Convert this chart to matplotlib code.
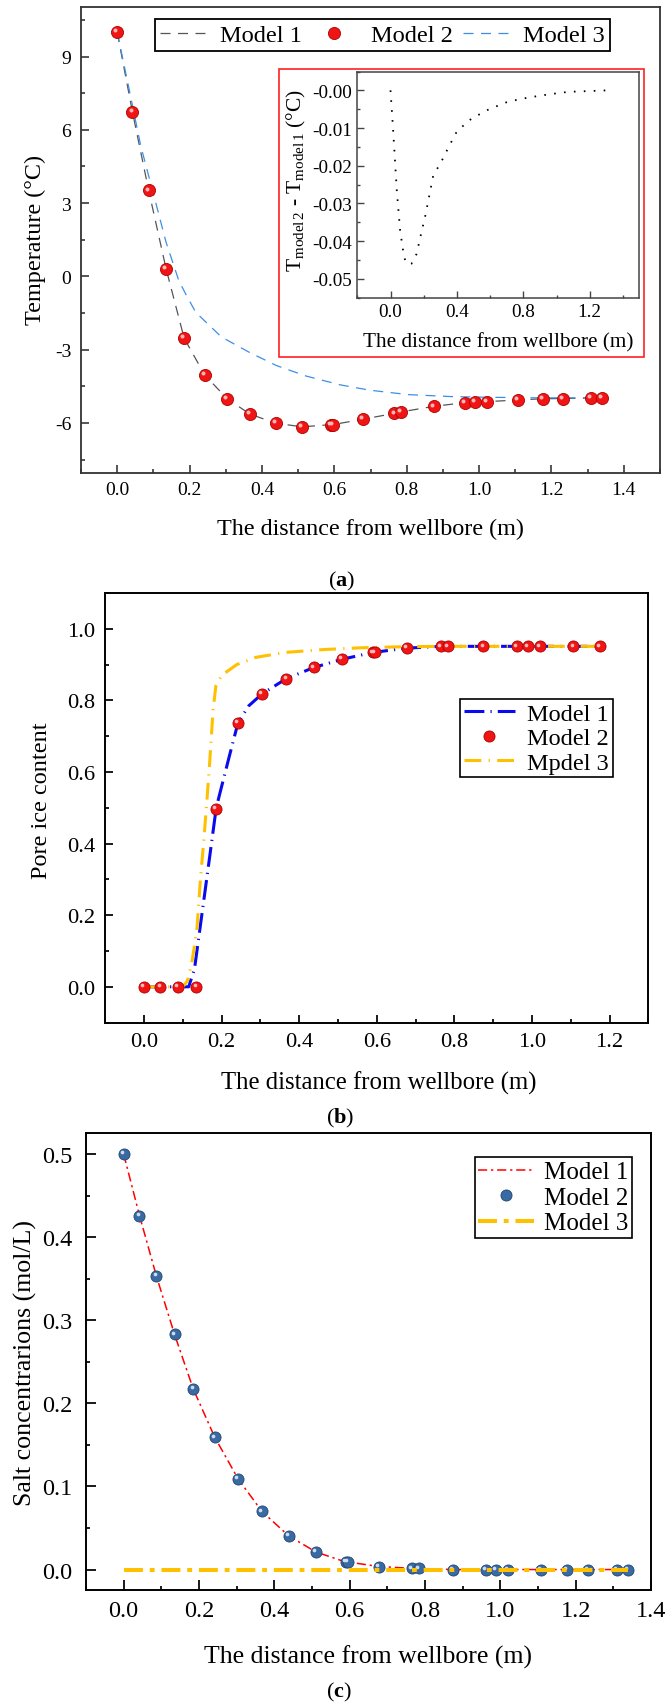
import matplotlib
matplotlib.use('Agg')
import matplotlib.pyplot as plt
from matplotlib.patches import Rectangle
from matplotlib.ticker import MultipleLocator, FormatStrFormatter
from matplotlib.transforms import offset_copy

plt.rcParams['font.family'] = ['Liberation Serif', 'DejaVu Serif']
plt.rcParams['mathtext.fontset'] = 'custom'
plt.rcParams['mathtext.rm'] = 'Liberation Serif'
plt.rcParams['mathtext.it'] = 'Liberation Serif:italic'
plt.rcParams['mathtext.bf'] = 'Liberation Serif:bold'
plt.rcParams['axes.unicode_minus'] = False

# ---------------- data ----------------
# shared sample positions of Model 2 (m)
x_pts = [0.000, 0.042, 0.087, 0.135, 0.185, 0.242, 0.304, 0.367, 0.438, 0.511,
         0.590, 0.596, 0.678, 0.766, 0.784, 0.875, 0.961, 0.989, 1.021, 1.107,
         1.176, 1.232, 1.309, 1.339]

# (a) temperature
temp_m1 = [10.0, 6.75, 3.52, 0.32, -2.53, -4.04, -5.01, -5.64, -6.01, -6.16,
           -6.07, -6.07, -5.85, -5.61, -5.55, -5.32, -5.17, -5.14, -5.13, -5.06,
           -5.01, -5.00, -4.98, -4.98]
temp_m2 = [10.0, 6.75, 3.52, 0.32, -2.53, -4.04, -5.01, -5.64, -6.01, -6.16,
           -6.07, -6.07, -5.85, -5.61, -5.55, -5.32, -5.17, -5.14, -5.13, -5.06,
           -5.01, -5.00, -4.98, -4.98]
x_t3 = [0.0, 0.029, 0.065, 0.106, 0.135, 0.17, 0.19, 0.217, 0.288, 0.364, 0.44,
        0.522, 0.616, 0.698, 0.804, 0.921, 1.027, 1.15, 1.339]
temp_m3 = [10.0, 7.95, 5.35, 3.05, 1.40, -0.16, -0.74, -1.47, -2.48, -3.10, -3.65,
           -4.08, -4.44, -4.66, -4.84, -4.92, -4.95, -4.97, -4.98]

# (a) inset: T_model2 - T_model1
x_diff = [0.0, 0.016, 0.038, 0.058, 0.076, 0.088, 0.11, 0.126, 0.157, 0.183, 0.211,
          0.257, 0.317, 0.347, 0.401, 0.488, 0.594, 0.708, 0.831, 0.949, 1.07, 1.31]
t_diff = [0.0, -0.0106, -0.0266, -0.0372, -0.0425, -0.0451, -0.0462, -0.046, -0.0434,
          -0.0383, -0.033, -0.0227, -0.018, -0.0153, -0.0108, -0.0075, -0.005, -0.003,
          -0.0019, -0.0011, -0.0004, 0.0]

# (b) pore ice content
x_ice1 = [0.0, 0.042, 0.087, 0.115, 0.13, 0.15, 0.165, 0.186, 0.2, 0.22, 0.242, 0.27,
          0.304, 0.367, 0.438, 0.511, 0.590, 0.678, 0.766, 0.875, 0.961, 1.021, 1.107, 1.176]
ice_m1 = [0.0, 0.0, 0.0, 0.0, 0.05, 0.21, 0.33, 0.50, 0.56, 0.645, 0.737, 0.785,
          0.818, 0.861, 0.892, 0.915, 0.934, 0.946, 0.951, 0.951, 0.951, 0.951, 0.951, 0.951]
x_ice2 = x_pts[:21]
ice_m2 = [0.0, 0.0, 0.0, 0.0, 0.497, 0.737, 0.818, 0.861, 0.892, 0.915, 0.934, 0.934,
          0.946, 0.951, 0.951, 0.951, 0.951, 0.951, 0.951, 0.951, 0.951]
x_ice3 = [0.0, 0.042, 0.087, 0.10, 0.112, 0.123, 0.136, 0.145, 0.153, 0.161, 0.169,
          0.178, 0.185, 0.20, 0.239, 0.287, 0.364, 0.462, 0.56, 0.67, 0.78, 0.9, 1.0,
          1.1, 1.176]
ice_m3 = [0.0, 0.0, 0.0, 0.0, 0.017, 0.067, 0.157, 0.297, 0.397, 0.506, 0.625, 0.775,
          0.84, 0.87, 0.90, 0.92, 0.934, 0.942, 0.947, 0.95, 0.951, 0.951, 0.951, 0.951, 0.951]

# (c) salt concentration
salt_m1 = [0.5, 0.426, 0.353, 0.283, 0.217, 0.159, 0.109, 0.070, 0.0405, 0.021, 0.009,
           0.009, 0.0036, 0.0014, 0.0013, 0.0, 0.0, 0.0, 0.0, 0.0, 0.0, 0.0, 0.0, 0.0]
salt_m2 = [0.5, 0.426, 0.353, 0.283, 0.217, 0.159, 0.109, 0.070, 0.0405, 0.021, 0.009,
           0.009, 0.0036, 0.0014, 0.0013, 0.0, 0.0, 0.0, 0.0, 0.0, 0.0, 0.0, 0.0, 0.0]
x_salt3 = [0.0, 1.339]
salt_m3 = [0.0, 0.0]

labels_a = ['Model 1', 'Model 2', 'Model 3']
labels_b = ['Model 1', 'Model 2', 'Mpdel 3']
labels_c = ['Model 1', 'Model 2', 'Model 3']
xlabel = 'The distance from wellbore (m)'

# ---------------- figure ----------------
W, H = 667, 1706
fig = plt.figure(figsize=(W / 100, H / 100), dpi=100)


def px_axes(l, t, r, b, z=0):
    ax = fig.add_axes([l / W, 1 - b / H, (r - l) / W, (b - t) / H])
    ax.set_zorder(z)
    return ax


def style(ax, fs, spine_c='black', lw=1.4, maj=6, mnr=3, pad=6):
    for s in ax.spines.values():
        s.set_linewidth(lw)
        s.set_color(spine_c)
    ax.tick_params(which='both', direction='in', top=False, right=False,
                   width=lw * 0.9, color=spine_c, labelsize=fs, pad=pad)
    ax.tick_params(which='major', length=maj)
    ax.tick_params(which='minor', length=mnr)


def spheres(ax, x, y, color, edge, hl, ms, label=None, z=5):
    h, = ax.plot(x, y, 'o', ms=ms, mfc=color, mec=edge, mew=0.6, ls='none',
                 label=label, zorder=z)
    tr = offset_copy(ax.transData, fig=fig, x=-1.3, y=1.3, units='points')
    ax.plot(x, y, 'o', ms=ms * 0.33, mfc=hl, mec='none', ls='none',
            transform=tr, zorder=z + 0.1)
    return h


# ---------- (a) ----------
axa = px_axes(81, 8, 660, 474)
style(axa, 14, spine_c='#333333', lw=1.3, maj=6, mnr=3, pad=6)
la1, = axa.plot(x_pts, temp_m1, color='#555555', lw=0.9, ls=(0, (8, 6)), zorder=3)
la3, = axa.plot(x_t3, temp_m3, color='#3D8FE6', lw=0.9, ls=(0, (8, 6)), zorder=3)
pa = spheres(axa, x_pts, temp_m2, '#F01515', '#B00000', '#FFB8B8', 8.7)
axa.set_xlim(-0.1, 1.5)
axa.set_ylim(-8.05, 11.03)
axa.xaxis.set_major_locator(MultipleLocator(0.2))
axa.xaxis.set_minor_locator(MultipleLocator(0.1))
axa.yaxis.set_major_locator(MultipleLocator(3))
axa.yaxis.set_minor_locator(MultipleLocator(1.5))
axa.xaxis.set_major_formatter(FormatStrFormatter('%.1f'))
axa.yaxis.set_major_formatter(FormatStrFormatter('%d'))
axa.tick_params(axis='y', pad=7)
axa.set_xlabel(xlabel, fontsize=17.4)
axa.set_ylabel('Temperature (°C)', fontsize=17.4)
axa.xaxis.set_label_coords(0.5, -0.12)
axa.yaxis.set_label_coords(-0.078, 0.502)
axa.xaxis.label.set_va('center')
axa.yaxis.label.set_va('center')
lega = axa.legend([la1, pa, la3], labels_a, ncol=3, fontsize=17.6, loc='upper left',
                  bbox_to_anchor=(0.128, 0.974), borderaxespad=0, frameon=True,
                  fancybox=False, edgecolor='black', framealpha=1,
                  handlelength=1.85, handletextpad=0.6, columnspacing=0.4,
                  borderpad=0.2)
lega.get_frame().set_linewidth(1.3)

# red frame + inset
frame = Rectangle((279.3 / W, 1 - 357.7 / H), (643.5 - 279.3) / W, (357.7 - 69.5) / H,
                  transform=fig.transFigure, fc='white', ec='#FF2020', lw=1.2, zorder=1)
fig.add_artist(frame)
axi = px_axes(357.3, 72.5, 639.5, 298.7, z=2)
style(axi, 13.8, spine_c='#444444', lw=1.1, maj=5, mnr=2.5, pad=4)
axi.plot(x_diff, t_diff, color='black', lw=1.3, ls=(0, (0.9, 4.6)), dash_capstyle='butt')
axi.set_xlim(-0.2, 1.5)
axi.set_ylim(-0.055, 0.005)
axi.xaxis.set_major_locator(MultipleLocator(0.4))
axi.xaxis.set_minor_locator(MultipleLocator(0.2))
axi.yaxis.set_major_locator(MultipleLocator(0.01))
axi.yaxis.set_minor_locator(MultipleLocator(0.005))
axi.xaxis.set_major_formatter(FormatStrFormatter('%.1f'))
axi.yaxis.set_major_formatter(FormatStrFormatter('%.2f'))
axi.tick_params(axis='x', pad=4)
axi.set_xlabel(xlabel, fontsize=15.3)
axi.set_ylabel(r'T$_{\rm model\,2}$ - T$_{\rm model\,1}$ (°C)', fontsize=15.5)
axi.xaxis.set_label_coords(0.5, -0.197)
axi.yaxis.set_label_coords(-0.215, 0.525)
axi.xaxis.label.set_va('center')
axi.yaxis.label.set_va('center')

fig.text(341.5 / W, 1 - 581 / H, r'($\mathbf{a}$)', fontsize=16, ha='center', va='center')

# ---------- (b) ----------
axb = px_axes(105.3, 594, 648.3, 1023.6)
style(axb, 16.2, lw=1.4, maj=6, mnr=3, pad=7)
lb1, = axb.plot(x_ice1, ice_m1, color='#0A0AF0', lw=2.2, ls=(0, (6.5, 2.0, 0.4, 2.0)), zorder=3)
lb3, = axb.plot(x_ice3, ice_m3, color='#FFC000', lw=2.2, ls=(0, (5.5, 2.4, 0.4, 2.4)), zorder=3)
pb = spheres(axb, x_ice2, ice_m2, '#F01515', '#B00000', '#FFB8B8', 8)
axb.set_xlim(-0.1, 1.3)
axb.set_ylim(-0.1, 1.1)
axb.xaxis.set_major_locator(MultipleLocator(0.2))
axb.xaxis.set_minor_locator(MultipleLocator(0.1))
axb.yaxis.set_major_locator(MultipleLocator(0.2))
axb.yaxis.set_minor_locator(MultipleLocator(0.1))
axb.xaxis.set_major_formatter(FormatStrFormatter('%.1f'))
axb.yaxis.set_major_formatter(FormatStrFormatter('%.1f'))
axb.set_xlabel(xlabel, fontsize=17.8)
axb.set_ylabel('Pore ice content', fontsize=17.5)
axb.xaxis.set_label_coords(0.503, -0.138)
axb.yaxis.set_label_coords(-0.118, 0.52)
axb.xaxis.label.set_va('center')
axb.yaxis.label.set_va('center')
legb = axb.legend([lb1, pb, lb3], labels_b, fontsize=17.5, loc='upper left',
                  bbox_to_anchor=(0.653, 0.753), borderaxespad=0, frameon=True,
                  fancybox=False, edgecolor='black', framealpha=1,
                  handlelength=2.1, handletextpad=0.52, labelspacing=0.1,
                  borderpad=0.15)
legb.get_frame().set_linewidth(1.2)

fig.text(340 / W, 1 - 1118 / H, r'($\mathbf{b}$)', fontsize=16, ha='center', va='center')

# ---------- (c) ----------
axc = px_axes(86, 1134.3, 651, 1591.3)
style(axc, 17.5, lw=1.4, maj=7, mnr=3, pad=7)
lc1, = axc.plot(x_pts, salt_m1, color='#FF0000', lw=1.1, ls=(0, (6, 2.5, 1.5, 2.5)), zorder=3)
pc = spheres(axc, x_pts, salt_m2, '#3A6AA3', '#22466F', '#D0DDF0', 8)
lc3, = axc.plot(x_salt3, salt_m3, color='#FFC000', lw=2.9, ls=(0, (4.7, 1.7, 1.2, 1.7)), zorder=7)
axc.set_xlim(-0.1, 1.4)
axc.set_ylim(-0.025, 0.525)
axc.xaxis.set_major_locator(MultipleLocator(0.2))
axc.xaxis.set_minor_locator(MultipleLocator(0.1))
axc.yaxis.set_major_locator(MultipleLocator(0.1))
axc.yaxis.set_minor_locator(MultipleLocator(0.05))
axc.xaxis.set_major_formatter(FormatStrFormatter('%.1f'))
axc.yaxis.set_major_formatter(FormatStrFormatter('%.1f'))
axc.tick_params(axis='y', pad=10)
axc.set_xlabel(xlabel, fontsize=18.5)
axc.set_ylabel('Salt concentrarions (mol/L)', fontsize=18.6)
axc.xaxis.set_label_coords(0.5, -0.144)
axc.yaxis.set_label_coords(-0.107, 0.50)
axc.xaxis.label.set_va('center')
axc.yaxis.label.set_va('center')
legc = axc.legend([lc1, pc, lc3], labels_c, fontsize=18, loc='upper left',
                  bbox_to_anchor=(0.688, 0.948), borderaxespad=0, frameon=True,
                  fancybox=False, edgecolor='black', framealpha=1,
                  handlelength=2.24, handletextpad=0.37, labelspacing=0.12,
                  borderpad=0.15)
legc.get_frame().set_linewidth(1.2)

fig.text(339 / W, 1 - 1692 / H, r'($\mathbf{c}$)', fontsize=16, ha='center', va='center')

fig.savefig('out.png', dpi=100)
